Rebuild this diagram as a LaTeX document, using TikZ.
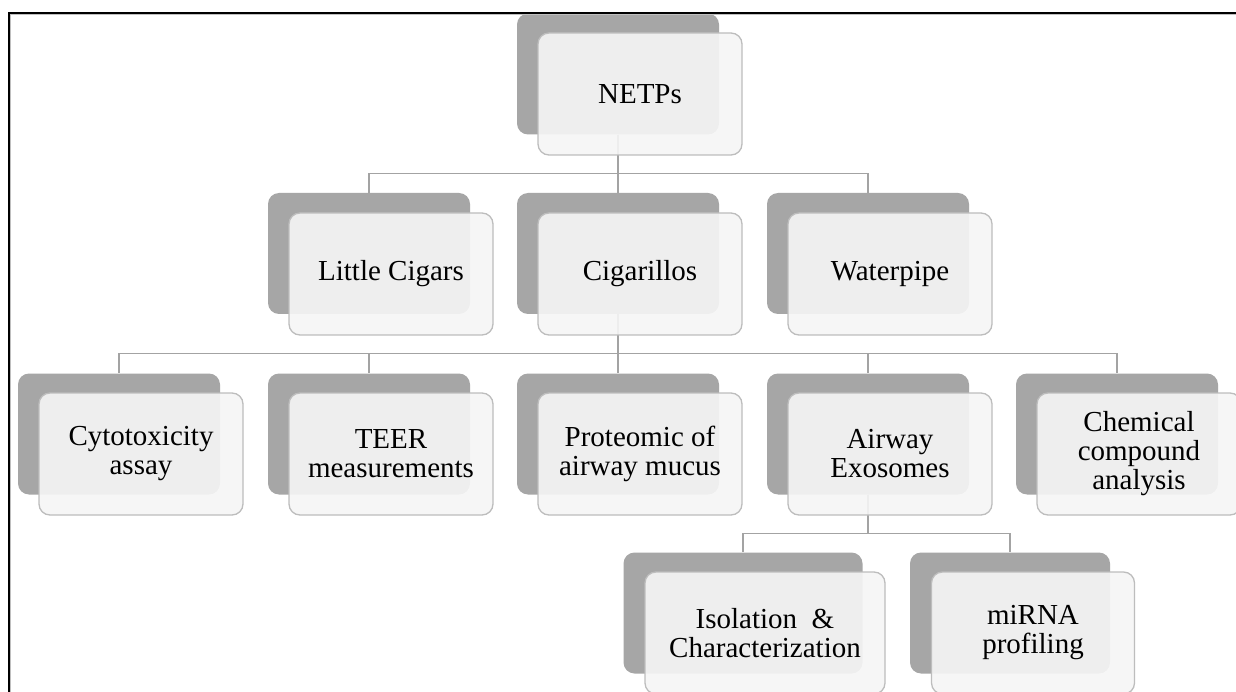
\documentclass[tikz,border=0pt]{standalone}
\usepackage{fontspec}
\setmainfont{Liberation Serif}
\usetikzlibrary{backgrounds}
\definecolor{backgray}{HTML}{A6A6A6}
\definecolor{frontfill}{HTML}{F6F6F6}
\definecolor{frontline}{HTML}{BDBDBD}
\definecolor{linkgray}{HTML}{A3A3A3}
\tikzset{
  backbox/.style={rectangle, rounded corners=11pt, fill=backgray, minimum width=202pt, minimum height=121pt, inner sep=0pt},
  frontbox/.style={rectangle, rounded corners=11pt, fill=frontfill, fill opacity=0.9, text opacity=1, draw=frontline, line width=1.3pt, minimum width=204pt, minimum height=122pt, align=center, font=\fontsize{29}{29}\selectfont, inner sep=2pt},
  link/.style={draw=linkgray, line width=1.4pt},
  framestyle/.style={draw=black, line width=1.6pt},
  frameshade/.style={draw=black!25, line width=1pt},
}
\begin{document}
\begin{tikzpicture}[x=1pt,y=-1pt]
\useasboundingbox (0,0) rectangle (1236,692);

% level 1
\node[backbox] (netpsB) at (618,74) {};
\node[frontbox] (netps) at (640,94) {NETPs};

% level 2
\node[backbox] (lcB) at (369,253.5) {};
\node[frontbox] (lc) at (391,274) {Little Cigars};
\node[backbox] (cigB) at (618,253.5) {};
\node[frontbox] (cig) at (640,274) {Cigarillos};
\node[backbox] (wpB) at (868,253.5) {};
\node[frontbox] (wp) at (890,274) {Waterpipe};

% level 3
\node[backbox] (cytoB) at (119,434) {};
\node[frontbox] (cyto) at (141,454) {Cytotoxicity\\assay};
\node[backbox] (teerB) at (369,434) {};
\node[frontbox] (teer) at (391,454) {TEER\\measurements};
\node[backbox] (protB) at (618,434) {};
\node[frontbox] (prot) at (640,454) {Proteomic of\\airway mucus};
\node[backbox] (airB) at (868,434) {};
\node[frontbox] (air) at (890,454) {Airway\\Exosomes};
\node[backbox] (chemB) at (1117,434) {};
\node[frontbox] (chem) at (1139,454) {Chemical\\compound\\analysis};

% level 4
\node[backbox, minimum width=239pt] (isoB) at (743,613) {};
\node[frontbox, minimum width=240pt] (iso) at (765,633) {Isolation~~\&\\Characterization};
\node[backbox, minimum width=200pt] (mirnaB) at (1010,613) {};
\node[frontbox, minimum width=203pt] (mirna) at (1033,633) {miRNA\\profiling};

\begin{scope}[on background layer]
  \fill[white] (0,0) rectangle (1236,692);
  \draw[link] (netpsB.south) -- ++(0,39) -| (lcB.north);
  \draw[link] (netpsB.south) -- ++(0,39) -| (cigB.north);
  \draw[link] (netpsB.south) -- ++(0,39) -| (wpB.north);
  \draw[link] (cigB.south) -- ++(0,39) -| (cytoB.north);
  \draw[link] (cigB.south) -- ++(0,39) -| (teerB.north);
  \draw[link] (cigB.south) -- ++(0,39) -| (protB.north);
  \draw[link] (cigB.south) -- ++(0,39) -| (airB.north);
  \draw[link] (cigB.south) -- ++(0,39) -| (chemB.north);
  \draw[link] (airB.south) -- ++(0,39) -| (isoB.north);
  \draw[link] (airB.south) -- ++(0,39) -| (mirnaB.north);
\end{scope}

% frame
\draw[frameshade] (10.8,692) -- (10.8,14.8) -- (1236,14.8);
\draw[framestyle] (9,692) -- (9,13) -- (1236,13);
\end{tikzpicture}
\end{document}
